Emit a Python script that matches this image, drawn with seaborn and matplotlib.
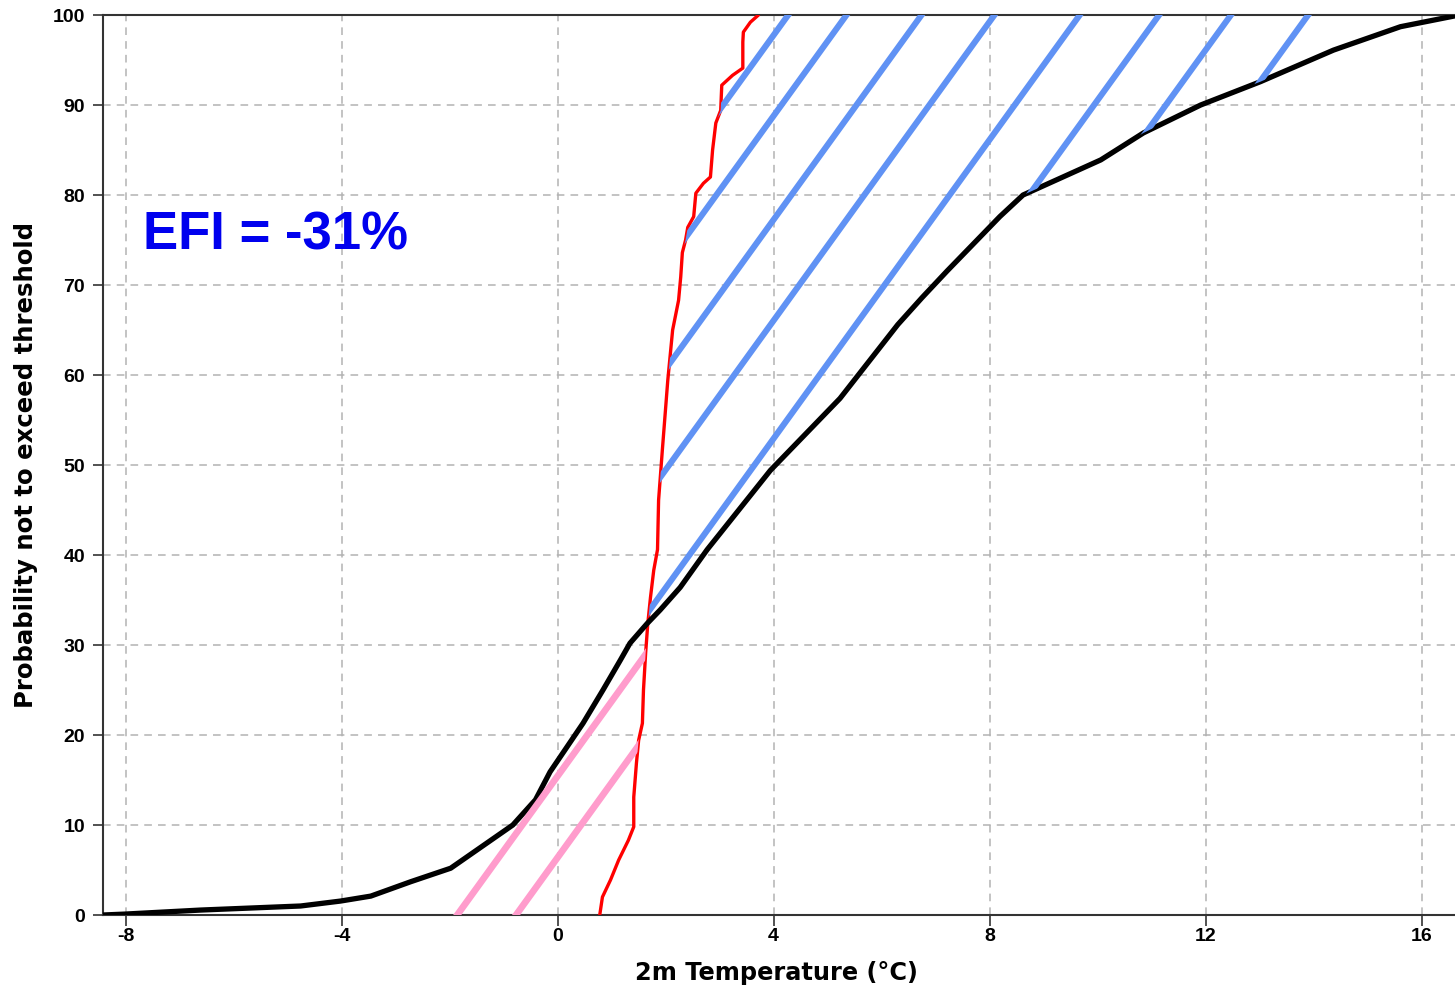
import numpy as np
import pandas as pd
import matplotlib
matplotlib.use("Agg")
import matplotlib.pyplot as plt
import seaborn as sns
from matplotlib.path import Path
from matplotlib.patches import PathPatch

# ---- data ----
clim_temp = [-8.42, -8.02, -6.61, -4.76, -4.02, -3.46, -2.72, -1.98, -0.83, -0.41,
             -0.14, 0.47, 0.84, 1.16, 1.34, 1.66, 1.90, 2.27, 2.77, 3.94,
             5.23, 6.30, 6.75, 7.22, 7.77, 8.19, 8.62, 10.06, 10.85, 11.91,
             13.02, 14.37, 15.61, 16.70]
clim_prob = [0, 0.1, 0.55, 1.0, 1.55, 2.1, 3.7, 5.2, 10, 12.8,
             15.9, 21.3, 25, 28.3, 30.2, 32.4, 33.9, 36.4, 40.6, 49.4,
             57.4, 65.6, 68.6, 71.6, 75, 77.6, 80, 83.9, 86.9, 90,
             92.6, 96.1, 98.7, 100]

ens_temp = [0.78, 0.83, 0.98, 1.13, 1.31, 1.41, 1.41, 1.46, 1.50, 1.57,
            1.59, 1.63, 1.67, 1.72, 1.78, 1.85, 1.87, 1.94, 2.04, 2.13,
            2.24, 2.28, 2.31, 2.37, 2.41, 2.52, 2.56, 2.70, 2.83, 2.87,
            2.93, 3.02, 3.04, 3.24, 3.43, 3.43, 3.44, 3.57, 3.72]
ens_prob = [0, 2, 3.9, 6.1, 8.3, 9.8, 13.1, 16.9, 19.4, 21.3,
            25, 29.1, 32.4, 35.3, 38.3, 40.6, 46.1, 51.7, 59.4, 65,
            68.3, 70.9, 73.6, 75, 76.4, 77.6, 80.2, 81.3, 82, 85,
            88, 89.4, 92.2, 93.3, 94.1, 97, 98.1, 99.2, 100]

# hatch lines: temperature where each blue line meets 100 %, pink lines meet 0 %
blue_hatch_top = [4.27, 5.35, 6.74, 8.09, 9.67, 11.14, 12.47, 13.90]
pink_hatch_base = [-1.86, -0.77]
hatch_slope = 8.3  # % per degC

efi_label = "EFI = -31%"
x_label = "2m Temperature (°C)"
y_label = "Probability not to exceed threshold"
x_ticks = [-8, -4, 0, 4, 8, 12, 16]
y_ticks = list(range(0, 101, 10))

# ---- style ----
sns.set_style("ticks")
plt.rcParams["font.family"] = ["Liberation Sans", "DejaVu Sans"]
plt.rcParams["axes.unicode_minus"] = False

W, H = 1455, 990
fig = plt.figure(figsize=(W / 100, H / 100), dpi=100)
ax = fig.add_axes([103 / W, 1 - 915 / H, 1352 / W, 900 / H])

clim = pd.DataFrame({"temp": clim_temp, "prob": clim_prob})
ens = pd.DataFrame({"temp": ens_temp, "prob": ens_prob})

sns.lineplot(data=ens, x="temp", y="prob", color="#ff0000", lw=2.4,
             sort=False, estimator=None, ax=ax, zorder=3)
sns.lineplot(data=clim, x="temp", y="prob", color="black", lw=3.8,
             sort=False, estimator=None, ax=ax, zorder=3)

# regions between the two CDFs (used as clip paths for the hatch lines)
yy = np.linspace(0, 100, 4001)
xb = np.interp(yy, clim_prob, clim_temp)
xr = np.interp(yy, ens_prob, ens_temp)

def region_patch(mask):
    coll = ax.fill_betweenx(yy, xb, xr, where=mask, interpolate=True,
                            facecolor="none", edgecolor="none", lw=0)
    path = Path.make_compound_path(*coll.get_paths())
    patch = PathPatch(path, transform=ax.transData, fc="none", ec="none", lw=0)
    ax.add_patch(patch)
    return patch

blue_region = region_patch(xr <= xb)
pink_region = region_patch(xb <= xr)

ys = np.array([-10.0, 110.0])
for xt in blue_hatch_top:
    xs = xt + (ys - 100) / hatch_slope
    ln, = ax.plot(xs, ys, color="#6092f4", lw=4.4, solid_capstyle="butt", zorder=4)
    ln.set_clip_path(blue_region)
for x0 in pink_hatch_base:
    xs = x0 + ys / hatch_slope
    ln, = ax.plot(xs, ys, color="#ff9ccc", lw=4.8, solid_capstyle="butt", zorder=4)
    ln.set_clip_path(pink_region)

ax.set_xlim(-8.42, 16.62)
ax.set_ylim(0, 100)
ax.set_xticks(x_ticks)
ax.set_yticks(y_ticks)
ax.set_xticklabels([str(t) for t in x_ticks])
ax.set_yticklabels([str(t) for t in y_ticks])

ax.set_axisbelow(True)
ax.grid(True, color="#b3b3b3", ls=(0, (5, 4)), lw=1.1)

for side in ["left", "bottom", "top"]:
    ax.spines[side].set_color("#333333")
    ax.spines[side].set_linewidth(1.5)
ax.spines["right"].set_visible(False)

ax.tick_params(axis="y", direction="out", length=7, width=1.2, pad=6,
               color="#333333", labelsize=14, labelcolor="black")
ax.tick_params(axis="x", direction="out", length=8, width=1.2, pad=1.5,
               color="#333333", labelsize=14, labelcolor="black")
for lbl in ax.get_xticklabels() + ax.get_yticklabels():
    lbl.set_fontweight("bold")

ax.set_xlabel(x_label, fontsize=17.3, fontweight="bold", family="DejaVu Sans",
              color="black")
ax.set_ylabel(y_label, fontsize=17.6, fontweight="bold", family="DejaVu Sans",
              color="black")
ax.xaxis.set_label_coords(0.4978, -0.051)
ax.yaxis.set_label_coords(-0.048, 0.5)

ax.text(0.0296, 0.739, efi_label, transform=ax.transAxes, fontsize=38,
        fontweight="bold", color="#0000ee", ha="left", va="baseline")

fig.savefig("out.png", dpi=100)
